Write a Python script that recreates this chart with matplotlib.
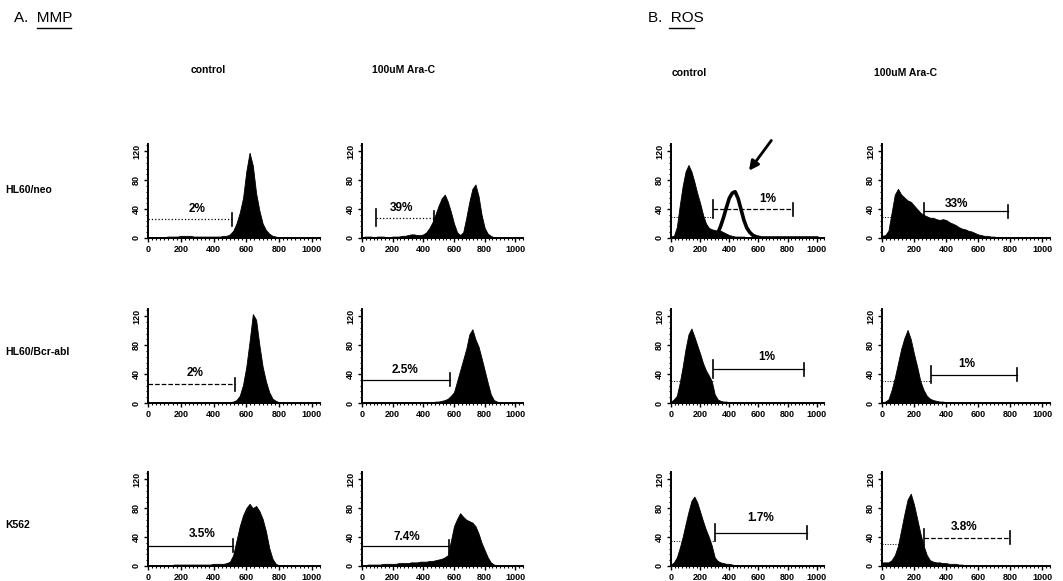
import numpy as np
import matplotlib.pyplot as plt
from matplotlib.lines import Line2D
from matplotlib.ticker import MultipleLocator

plt.rcParams['font.family'] = ['Liberation Sans', 'DejaVu Sans']

W, H = 1063, 581

# channel grid of the histograms (0..1000, step 20)
channels = np.arange(0, 1001, 20)

# event counts per channel
mmp_ctrl_neo = [1, 1, 1, 1, 1, 1, 2, 2, 2, 2,
                3, 3, 3, 3, 2, 2, 2, 2, 2, 2,
                2, 2, 2, 3, 3, 5, 10, 20, 35, 55,
                92, 118, 100, 62, 38, 20, 11, 6, 3, 2,
                1, 1, 1, 1, 0, 0, 0, 0, 0, 0, 0]
mmp_arac_neo = [1, 2, 2, 2, 1, 2, 2, 2, 1, 1,
                2, 2, 2, 3, 3, 4, 5, 5, 4, 4,
                5, 8, 14, 22, 33, 45, 55, 60, 50, 36,
                20, 8, 4, 8, 28, 50, 68, 74, 58, 32,
                14, 6, 3, 1, 1, 0, 0, 0, 0, 0, 0]
ros_ctrl_neo = [1, 3, 15, 45, 72, 92, 101, 92, 78, 62,
                48, 32, 20, 14, 12, 11, 10, 10, 8, 6,
                4, 3, 2, 2, 2, 2, 1, 1, 1, 1,
                1, 0, 0, 0, 0, 0, 0, 0, 0, 0,
                0, 0, 0, 0, 0, 0, 0, 0, 0, 0, 0]
ros_ctrl_neo_open = [0, 0, 0, 0, 0, 0, 0, 0, 0, 0,
                     0, 0, 0, 0, 0, 0, 6, 16, 28, 42,
                     55, 62, 64, 55, 40, 25, 14, 8, 4, 2,
                     1, 0, 0, 0, 0, 0, 0, 0, 0, 0,
                     0, 0, 0, 0, 0, 0, 0, 0, 0, 0, 0]
ros_arac_neo = [3, 4, 10, 35, 60, 68, 60, 56, 52, 50,
                45, 40, 35, 32, 30, 28, 28, 26, 25, 26,
                25, 22, 20, 18, 15, 13, 12, 10, 9, 7,
                5, 4, 3, 3, 2, 2, 1, 1, 0, 0,
                0, 0, 0, 0, 0, 0, 0, 0, 0, 0, 0]

mmp_ctrl_bcr = [1, 1, 1, 1, 1, 1, 1, 1, 1, 1,
                1, 1, 1, 1, 1, 1, 1, 1, 1, 1,
                1, 1, 1, 1, 1, 1, 2, 4, 10, 25,
                50, 85, 123, 115, 80, 50, 30, 15, 6, 3,
                1, 1, 0, 0, 0, 0, 0, 0, 0, 0, 0]
mmp_arac_bcr = [1, 1, 1, 1, 1, 1, 1, 1, 1, 1,
                1, 1, 1, 1, 1, 1, 1, 1, 1, 1,
                1, 1, 1, 1, 2, 2, 3, 4, 6, 10,
                15, 30, 45, 60, 75, 95, 102, 88, 78, 62,
                45, 28, 12, 4, 2, 1, 0, 0, 0, 0, 0]
ros_ctrl_bcr = [2, 5, 10, 28, 50, 75, 95, 103, 92, 80,
                68, 55, 45, 38, 30, 12, 5, 3, 2, 2,
                1, 1, 1, 0, 0, 0, 0, 0, 0, 0,
                0, 0, 0, 0, 0, 0, 0, 0, 0, 0,
                0, 0, 0, 0, 0, 0, 0, 0, 0, 0, 0]
ros_arac_bcr = [1, 2, 5, 18, 35, 55, 75, 90, 101, 88,
                68, 50, 30, 18, 10, 6, 4, 3, 2, 2,
                1, 1, 0, 0, 0, 0, 0, 0, 0, 0,
                0, 0, 0, 0, 0, 0, 0, 0, 0, 0,
                0, 0, 0, 0, 0, 0, 0, 0, 0, 0, 0]

mmp_ctrl_k562 = [0, 1, 1, 1, 1, 1, 1, 1, 2, 2,
                 2, 2, 2, 2, 2, 2, 2, 2, 2, 2,
                 3, 3, 3, 3, 4, 6, 15, 35, 55, 70,
                 80, 86, 80, 83, 76, 65, 48, 25, 10, 3,
                 1, 1, 0, 0, 0, 0, 0, 0, 0, 0, 0]
mmp_arac_k562 = [1, 1, 2, 2, 2, 2, 2, 3, 3, 3,
                 3, 3, 4, 4, 4, 4, 5, 5, 5, 6,
                 6, 6, 7, 7, 8, 9, 10, 12, 15, 35,
                 55, 65, 73, 68, 64, 62, 60, 55, 45, 32,
                 22, 12, 5, 2, 1, 0, 0, 0, 0, 0, 0]
ros_ctrl_k562 = [2, 5, 12, 25, 40, 58, 75, 90, 96, 88,
                 75, 62, 50, 40, 28, 12, 7, 5, 4, 3,
                 3, 2, 1, 1, 0, 0, 0, 0, 0, 0,
                 0, 0, 0, 0, 0, 0, 0, 0, 0, 0,
                 0, 0, 0, 0, 0, 0, 0, 0, 0, 0, 0]
ros_arac_k562 = [5, 5, 5, 8, 15, 28, 50, 72, 92, 100,
                 85, 65, 45, 28, 15, 8, 6, 5, 5, 4,
                 4, 3, 3, 3, 2, 2, 1, 1, 0, 0,
                 0, 0, 0, 0, 0, 0, 0, 0, 0, 0,
                 0, 0, 0, 0, 0, 0, 0, 0, 0, 0, 0]

histograms = [[mmp_ctrl_neo, mmp_arac_neo, ros_ctrl_neo, ros_arac_neo],
              [mmp_ctrl_bcr, mmp_arac_bcr, ros_ctrl_bcr, ros_arac_bcr],
              [mmp_ctrl_k562, mmp_arac_k562, ros_ctrl_k562, ros_arac_k562]]

row_names = ["HL60/neo", "HL60/Bcr-abl", "K562"]
col_titles = ["control", "100uM Ara-C", "control", "100uM Ara-C"]

# marker gates (start channel, end channel, height) and percent in gate
gates = [[(0, 510, 26), (90, 470, 28), (285, 837, 40), (260, 785, 37)],
         [(0, 530, 26), (0, 575, 32), (290, 910, 47), (305, 845, 39)],
         [(0, 520, 28), (0, 570, 27), (300, 935, 46), (265, 800, 39)]]
percents = [["2%", "39%", "1%", "33%"],
            ["2%", "2.5%", "1%", "1%"],
            ["3.5%", "7.4%", "1.7%", "3.8%"]]
# lower (faint) M1 marker heights on the ROS panels
low_marker = [29, 29, 30, 31, 34, 30]

x_ticks = [0, 200, 400, 600, 800, 1000]
y_ticks = [0, 40, 80, 120]

# ---- layout (pixels) ----
col_left = [148, 362, 671, 882]
col_width = [172, 161, 153, 168]
row_bottom = [238, 403, 566]
panel_h = 94
label_pos = [[(300, 40), (255, 41), (667, 54), (465, 47)],
             [(287, 41), (280, 45), (660, 63), (530, 54)],
             [(330, 44), (295, 40), (615, 67), (510, 54)]]
gate_styles = [[':', ':', '--', '-'],
               ['--', '-', '-', '-'],
               ['-', '-', '-', '--']]

fig = plt.figure(figsize=(W / 100, H / 100), dpi=100)


def fx(px):
    return px / W


def fy(py):
    return 1 - py / H


for r in range(3):
    for c in range(4):
        ax = fig.add_axes([fx(col_left[c]), fy(row_bottom[r]),
                           fx(col_width[c]), panel_h / H])
        counts = histograms[r][c]
        if r == 0 and c == 2:
            ax.fill_between(channels, ros_ctrl_neo_open, color='white', lw=0, zorder=1)
            ax.plot(channels, ros_ctrl_neo_open, color='black', lw=2.6, zorder=2)
        ax.fill_between(channels, counts, color='black', lw=0.6, edgecolor='black', zorder=3)

        x1, x2, gy = gates[r][c]
        ls = gate_styles[r][c]
        ax.plot([x1, x2], [gy, gy], color='black', lw=0.9, ls=ls, zorder=4)
        ax.plot([x2, x2], [gy - 9, gy + 9], color='black', lw=1.2, zorder=4)
        if x1 > 0:
            ax.plot([x1, x1], [gy - 12, gy + 12], color='black', lw=1.2, zorder=4)
        if c >= 2:
            ly = low_marker[r * 2 + c - 2]
            ax.plot([0, x1], [ly, ly], color='black', lw=0.7, ls=':', zorder=4)
        tx, ty = label_pos[r][c]
        ax.text(tx, ty, percents[r][c], ha='center', va='center',
                fontsize=8.5, fontweight='bold', zorder=5)

        if r == 0 and c == 2:
            ax.annotate('', xy=(524, 90), xytext=(700, 138),
                        arrowprops=dict(arrowstyle='-|>', color='black', lw=2,
                                        mutation_scale=14),
                        annotation_clip=False)

        ax.set_xlim(0, 1050)
        ax.set_ylim(0, 130)
        for s in ['top', 'right']:
            ax.spines[s].set_visible(False)
        ax.spines['left'].set_linewidth(1.4)
        ax.spines['bottom'].set_linewidth(1.4)
        ax.set_xticks(x_ticks)
        ax.set_xticklabels([str(v) for v in x_ticks], fontsize=6.5, fontweight='bold')
        ax.set_yticks(y_ticks)
        ax.set_yticklabels([str(v) for v in y_ticks], fontsize=6.5, fontweight='bold',
                           rotation=90, va='center')
        ax.xaxis.set_minor_locator(MultipleLocator(25))
        ax.yaxis.set_minor_locator(MultipleLocator(8))
        ax.tick_params(which='major', length=3, width=1, pad=2)
        ax.tick_params(which='minor', length=1.5, width=0.8)
        ax.patch.set_alpha(0)

# headers
fig.text(fx(14), fy(18), "A.  MMP", fontsize=11, va='center', ha='left')
fig.add_artist(Line2D([fx(37), fx(71)], [fy(28), fy(28)], color='black', lw=1))
fig.text(fx(648), fy(18), "B.  ROS", fontsize=11, va='center', ha='left')
fig.add_artist(Line2D([fx(669), fx(694)], [fy(28), fy(28)], color='black', lw=1))

title_x = [208, 403, 689, 905]
title_y = [70, 70, 73, 73]
for t, x, y in zip(col_titles, title_x, title_y):
    fig.text(fx(x), fy(y), t, fontsize=7.5, fontweight='bold', ha='center', va='center')

row_y = [190, 352, 525]
for name, y in zip(row_names, row_y):
    fig.text(fx(5), fy(y), name, fontsize=7.5, fontweight='bold', ha='left', va='center')

fig.savefig('out.png', dpi=100)
